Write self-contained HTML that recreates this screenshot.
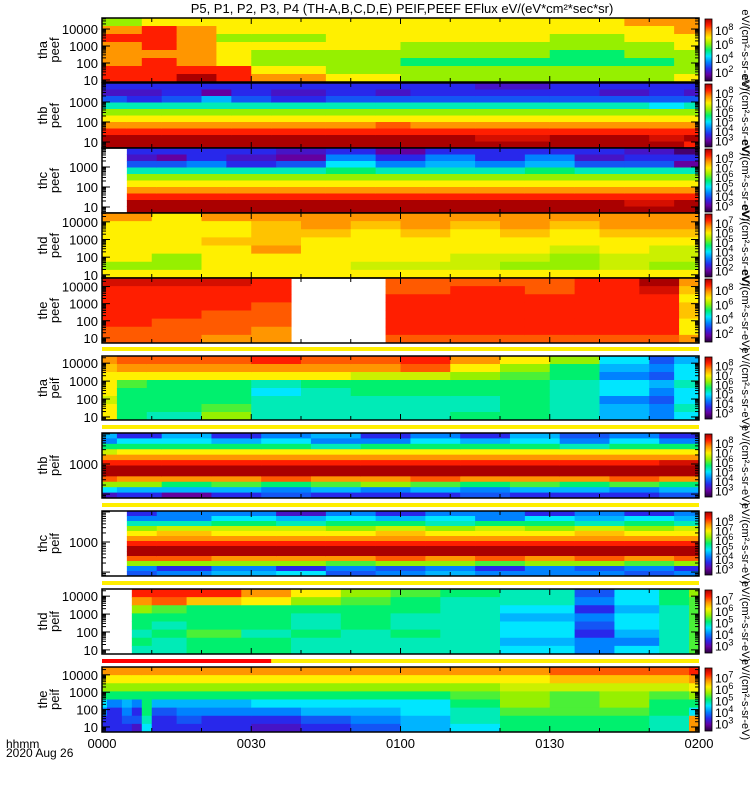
<!DOCTYPE html>
<html><head><meta charset="utf-8"><style>
body{margin:0;background:#fff;}
svg{display:block;font-family:"Liberation Sans",sans-serif;}
</style></head><body>
<svg id="chart" width="750" height="800" viewBox="0 0 750 800"></svg>
<script>
// ---------- data ----------
const xTickLabels = ["0000","0030","0100","0130","0200"];
const xTickMinutes = [0,30,60,90,120];
const panelNames = [["tha","peef"],["thb","peef"],["thc","peef"],["thd","peef"],["the","peef"],["tha","peif"],["thb","peif"],["thc","peif"],["thd","peif"],["the","peif"]];
const panelTops = [18,83,148,213,278,356,433,511,589,667];
const panelBottoms = [82,148,213,278,343,420,498,576,654,732];
const logMins = [0.88,0.7,0.7,0.82,0.7,0.83,1.87,1.87,0.77,0.71];
const logMaxs = [4.65,3.95,3.95,4.5,4.5,4.4,4.03,4.03,4.4,4.45];
const yTickValsLog = [[10,100,1000,10000],[10,100,1000],[10,100,1000],[10,100,1000,10000],[10,100,1000,10000],[10,100,1000,10000],[1000],[1000],[10,100,1000,10000],[10,100,1000,10000]];
const cbExponents = [[8,6,4,2],[8,7,6,5,4,3],[8,7,6,5,4,3],[7,6,5,4,3,2],[8,6,4,2],[8,7,6,5,4,3],[8,7,6,5,4,3],[8,7,6,5,4,3],[7,6,5,4,3],[7,6,5,4,3]];

// panel 1 tha peef
const p1Starts=[0,8,15,23,30,45,60,75,90,105,115];
const p1Vals=[[6,8,9,8,8,8,9,9],[7,9,9,9,8,9,9,9],[7,8,8,8,8,8,9,10],[7,7,6,7,7,7,9,9],[7,7,6,7,6,6,7,8],[7,7,7,7,6,6,6,7],[7,7,7,6,6,5,6,6],[7,7,7,6,6,5,6,6],[7,7,6,6,5,5,6,6],[8,7,7,6,6,5,6,6],[8,8,7,7,6,6,6,7]];
// panel 2 thb peef
const p2Starts=[0,5,12,20,26,34,45,55,62,75,90,100,110,117];
const p2Vals=[[2,1.5,2.5,4.5,6,7,8,9,10,10],[2,1.5,2,4.5,6,7,8,9,10,10],[2,2,2.5,4.5,6,7,8,9,10,10],[2,1,3.5,4.5,6,7,8,9,10,10],[2,2,2.5,4.5,6,7,8,9,10,10],[2,1.5,2,4.5,6,7,8,9,10,10],[2,2,2.5,4.5,6,7,8,9,10,10],[2,1.5,2.5,4.5,6,7,8.5,9,10,10],[2,2,2.5,4.5,6,7,8,9,10,10],[1.5,2,2.5,4.5,6,7,8,9,9.5,10],[2,2,2.5,4.5,6,7,8,9,10,10],[2,1.5,2.5,4.5,6,7,8,9,10,10],[2,2,2.5,4,6,7,8,9,9.5,10],[2,1.5,2.5,4.5,6,7,8,9,10,9]];
// panel 3 thc peef
const p3Starts=[0,5,11,17,25,35,45,55,65,75,85,95,105,115];
const p3Vals=[null,[2,1.5,2.5,4.5,6,7,8,9,10,10],[2,1,2.5,4.5,6,7,8,9,10,10],[2,2,3,4.5,6,7,8,9,10,10],[2,1.5,2,4.5,6,7,8,9,10,10],[1.5,1,2.5,4.5,6,7,8,9,10,10],[2,3,4,5,6,7,8,9,10,10],[1,2,3,4.5,6,7,8,9,10,10],[2,3,3.5,4.5,6,7,8,9,10,10],[2,2,3,4.5,6,7,8,9,10,10],[2,3,3.5,5,6,7,8,9,10,10],[2,1.5,2.5,4.5,6,7,8,9,10,10],[1.5,2,2.5,4.5,6,7,8,9,9.5,10],[0.5,2,1,4.5,6,7,8,9,10,10]];
// panel 4 thd peef
const p4Starts=[0,10,20,30,40,50,60,70,80,90,100,110];
const p4Vals=[[8,7,7,7,7,7,6,7],[7,7,7,7,7,6,6,7],[8,7,7,7.5,7,7,7,7],[8,7.5,7.5,7.5,8,7,7,7],[8,8,7.5,7,7,7,7,7],[8,7.5,7,7,7,7,6.5,7],[8,8,7.5,7,7,7,6.5,7],[8,7.5,7,7,7,6.5,6.5,7],[8,8,7.5,7,7,6.5,6,7],[8,7.5,7,7,6.5,6,6,7],[8,8,7.5,7,7,6.5,6.5,7],[8,8,7.5,7,6.5,6.5,6,7]];
// panel 5 the peef
const p5Starts=[0,10,20,30,38,57,70,85,95,108,116];
const p5Vals=[[9.5,9,9,9,9,9,8.5,8.5],[9.5,9,9,9,9,8.5,8.5,8.5],[9.5,9,9,9,8.5,8.5,8.5,8],[9,9,9,8.5,8.5,8.5,8,8],null,[8.5,8.5,9,9,9,9,9,8.5],[8.5,9,9,9,9,9,9,8.5],[8.5,8.5,9,9,9,9,9,8.5],[9,9,9,9,9,9,9,8.5],[10,9.5,9,9,9,9,9,8.5],[8,7.5,7,7.5,7.5,7,7,8]];
// panel 6 tha peif
const p6Starts=[0,3,9,20,30,40,50,60,70,80,90,100,110,115];
const p6Vals=[[8,7.5,7,7,7,6.5,7,7],[8.5,8,7,5.5,5,5,5,5],[8.5,8,7,5,5,5,5,4.5],[8.5,8,7,5,5,5,5.5,6],[9,8,7,4.5,4,4.5,4.5,4.5],[8.5,8,7,5,4.5,4.5,4.5,4.5],[8.5,8,6.5,5,5,4.5,4.5,4.5],[9,8.5,6.5,5,5,4.5,4.5,4.5],[8,7,6,5,5,4.5,4.5,5],[7,6,5.5,5,5,5,5,5],[6,5,5,4.5,4.5,4.5,4.5,4.5],[4,3.5,3,4,4,3,3.5,3.5],[2.5,3,2.5,3.5,3,2.5,3,3],[3.5,4,4,4.5,4,4,4.5,4]];
// panel 7 thb peif
const p7Starts=[0,3,12,22,32,42,52,62,72,82,92,102,112];
const p7Vals=[[3.5,3,5,6.5,8,9,10,10,8.5,6,4,1.5],[2,4,5,7,8,9,10,10,8,6,3.5,2],[3.5,4,5,7,8,9,10,10,8,5,3.5,1],[2,3.5,5,7,8,9,10,10,8,5.5,3.5,2],[3,4,5,7,8,9,10,10,8.5,5,3,2.5],[3.5,3,4.5,7,8,9,10,10,8,5.5,3.5,2],[2,3,5,7,8,9,10,10,8,6,3,2],[3,4,5,7,8,9,10,10,8.5,5.5,3.5,2],[2,3.5,5,7,8,9,10,10,8,5,3,2.5],[3.5,4,5,7,8,9,10,10,8,5.5,3.5,2],[2.5,3,4.5,7,8,9,10,10,8,5,3.5,2],[3,4,5,7,8,9,10,10,8.5,5.5,3,2],[2,3,5,7,8,9.5,10,10,8,5,3.5,2.5]];
// panel 8 thc peif
const p8Starts=[0,5,11,22,35,45,55,65,75,85,95,105,115];
const p8Vals=[null,[2,3,4.5,6,7,8,9,10,10,8.5,6,3,2.5],[3,3,4.5,6.5,7.5,8,9,10,10,8.5,6,2,3],[3,4,5,6.5,7,8,9,10,10,8,6,3,3.5],[1.5,3.5,4.5,6.5,7,8,9,10,10,8,6,2,4],[3,4,5,6,7,8,9,10,10,8,5.5,3,2.5],[2,3.5,5,6.5,7.5,8,9,10,10,8.5,6,2.5,3],[3,4,4.5,6,7,8,9,10,10,8,6,3,3.5],[3,3,5,6.5,7,8,9,10,10,8.5,5.5,2,3],[2,4,5,6,7,8,9,10,10,8,6,3,3],[3,3.5,4.5,6.5,7.5,8,9,10,10,8.5,6,2.5,3],[2,4,5,6,7,8,9,10,10,8,5.5,3,2.5],[3,3.5,4.5,6.5,7,8,9,10,10,8.5,6,2,3]];
// panel 9 thd peif
const p9Starts=[0,6,10,17,28,38,48,58,68,80,95,103,112,118];
const p9Vals=[null,[9,8,6,5,5,4.5,5,4.5],[9,8.5,5.5,5,4.5,5,4.5,4.5],[9,7.5,5,5,5,5.5,5,5],[8,7,5,5,5,4.5,5,5],[7,6,5,4.5,4.5,5,4.5,4.5],[6,5.5,5,5,5,4.5,4.5,4.5],[5.5,5,5,4.5,4.5,5,4.5,4.5],[5,4.5,4.5,4.5,4.5,4.5,4.5,4.5],[4.5,4.5,4,3.5,4,4,3.5,4],[2.5,3,2,3,2.5,2,3,3],[4,4,3.5,4,4,3.5,3,4],[5,5,4.5,4.5,4.5,4.5,4.5,4.5],[6,5.5,5.5,5.5,5.5,5.5,5.5,5.5]];
// panel 10 the peif
const p10Starts=[0,1,4,6,8,10,15,20,30,40,50,60,70,80,90,100,110,118];
const p10Vals=[[8,7,6,5,4,3,2,2],[8,7,6,5,3,2,2,2],[8,7,6,5,3.5,3,2.5,2],[8,7,6,5,3,2,2.5,1.5],[8,7,6,5,5,5,4.5,4],[8,7,6,5,3.5,2.5,2,2],[8,7,6,5,3.5,3,2.5,2],[8,7,6,5,3.5,3,2,2],[8,7,6,5,4,3,2,1.5],[8,7,6,5,4,3.5,2.5,2],[8,7,6,5,4,3.5,3,2.5],[8,7,6,5,4,4,3.5,3.5],[8,7,6,5.5,5,4.5,4.5,4],[8,7,6.5,6,6,5.5,5,5],[8.5,7.5,6.5,5.5,5.5,5.5,5,5],[8.5,7.5,6.5,6,6,5.5,5,5],[8.5,7.5,6.5,5.5,5,5,4.5,4.5],[9,8,7,6,5,4,8,8]];

const panelStarts=[p1Starts,p2Starts,p3Starts,p4Starts,p5Starts,p6Starts,p7Starts,p8Starts,p9Starts,p10Starts];
const panelVals=[p1Vals,p2Vals,p3Vals,p4Vals,p5Vals,p6Vals,p7Vals,p8Vals,p9Vals,p10Vals];

// separator bars between panels (flags), minutes where color switches
const barYs=[347,425,503,581,659];
const bar5RedEnd=34;

// ---------- layout ----------
const X0=102, X1=699, TMAX=120;
const xScale = m => X0 + (m/TMAX)*(X1-X0);
const NS="http://www.w3.org/2000/svg";
const svg=document.getElementById('chart');
function el(tag,attrs,parent){const e=document.createElementNS(NS,tag);for(const k in attrs)e.setAttribute(k,attrs[k]);(parent||svg).appendChild(e);return e;}

const stops=[[40,0,60],[100,0,160],[40,40,235],[0,130,255],[0,230,255],[0,240,110],[150,240,0],[255,240,0],[255,150,0],[255,30,0],[170,0,0]];
function jet(v){v=Math.max(0,Math.min(10,v));const i=Math.min(9,Math.floor(v)),f=v-i;const a=stops[i],b=stops[i+1];return `rgb(${a.map((c,k)=>Math.round(c+(b[k]-c)*f)).join(',')})`;}

// title
const title=el('text',{x:402,y:13,'text-anchor':'middle','font-size':'13',fill:'#000'});


title.textContent='P5, P1, P2, P3, P4 (TH-A,B,C,D,E) PEIF,PEEF EFlux eV/(eV*cm\u00B2*sec*sr)';

// gradient for colorbars
const defs=el('defs',{});
const lg=el('linearGradient',{id:'jetg',x1:0,y1:1,x2:0,y2:0},defs);
stops.forEach((s,i)=>el('stop',{offset:(i/10),'stop-color':`rgb(${s.join(',')})`},lg));

for(let p=0;p<10;p++){
  const top=panelTops[p], bot=panelBottoms[p], h=bot-top;
  const g=el('g',{});
  
  
  const starts=panelStarts[p], vals=panelVals[p];
  for(let s=0;s<starts.length;s++){
    const col=vals[s]; if(!col) continue;
    const xa=xScale(starts[s]), xb=xScale(s+1<starts.length?starts[s+1]:TMAX);
    const rh=h/col.length;
    for(let r=0;r<col.length;r++){
      const rc=el('rect',{x:xa,y:top+r*rh,width:xb-xa+0.5,height:rh+0.5,fill:jet(col[r])},g);
      
      
    }
  }
  // frame
  el('rect',{x:X0,y:top,width:X1-X0,height:h,fill:'none',stroke:'#000','stroke-width':1.5},g);
  // y ticks (log)
  const lmin=logMins[p], lmax=logMaxs[p];
  const yS=v=>bot-(Math.log10(v)-lmin)/(lmax-lmin)*h;
  for(let d=0;d<6;d++){for(let m=1;m<10;m++){const v=m*Math.pow(10,d);const lv=Math.log10(v);if(lv<lmin||lv>lmax)continue;const y=yS(v);const len=m===1?8:4;
    el('line',{x1:X0,x2:X0+len,y1:y,y2:y,stroke:'#000','stroke-width':1},g);
    el('line',{x1:X1-len,x2:X1,y1:y,y2:y,stroke:'#000','stroke-width':1},g);}}
  yTickValsLog[p].forEach(v=>{const t=el('text',{x:98,y:yS(v)+5,'text-anchor':'end','font-size':'13',fill:'#000'},g);
    
    
    t.textContent=String(v);});
  // x ticks
  for(let m=0;m<=TMAX;m+=10){const x=xScale(m);const len=m%30===0?6:4;
    el('line',{x1:x,x2:x,y1:bot,y2:bot-len,stroke:'#000'},g);el('line',{x1:x,x2:x,y1:top,y2:top+len,stroke:'#000'},g);}
  // y axis title
  const cy=(top+bot)/2;
  const yt=el('text',{transform:`translate(47,${cy}) rotate(-90)`,'text-anchor':'middle','font-size':'13',fill:'#000'},g);
  
  
  yt.textContent=panelNames[p][0];
  const yt2=el('text',{transform:`translate(59,${cy}) rotate(-90)`,'text-anchor':'middle','font-size':'13',fill:'#000'},g);
  
  
  yt2.textContent=panelNames[p][1];
  // colorbar
  const cb=el('rect',{x:705,y:top+1,width:7,height:h-2,fill:'url(#jetg)',stroke:'#000','stroke-width':0.8},g);
  
  
  const ex=cbExponents[p];
  ex.forEach((e,i)=>{const y=top+6+(i+0.5)*(h-8)/ex.length;
    const t=el('text',{x:715,y:y+4,'font-size':'12',fill:'#000'},g);
    
    
    t.innerHTML='10<tspan dy="-5" font-size="9">'+e+'</tspan>';});
  const ut=el('text',{transform:`translate(742,${cy}) rotate(90)`,'text-anchor':'middle','font-size':'11',fill:'#000'},g);
  
  
  ut.textContent='eV/(cm\u00B2-s-sr-eV)';
}

// separator flag bars
barYs.forEach((y,i)=>{
  const b=el('rect',{x:X0,y:y,width:X1-X0,height:4,fill:'#ffee00'});
  
  
  if(i===4){const r=el('rect',{x:X0,y:y,width:xScale(bar5RedEnd)-X0,height:4,fill:'#ff0000'});
    
    }
});

// x tick labels
xTickMinutes.forEach((m,i)=>{const t=el('text',{x:xScale(m),y:748,'text-anchor':'middle','font-size':'13',fill:'#000'});
  
  
  t.textContent=xTickLabels[i];});
const hh=el('text',{x:6,y:748,'font-size':'12',fill:'#000'});


hh.textContent='hhmm';
const dt=el('text',{x:6,y:757,'font-size':'12',fill:'#000'});


dt.textContent='2020 Aug 26';
</script>
</body></html>
